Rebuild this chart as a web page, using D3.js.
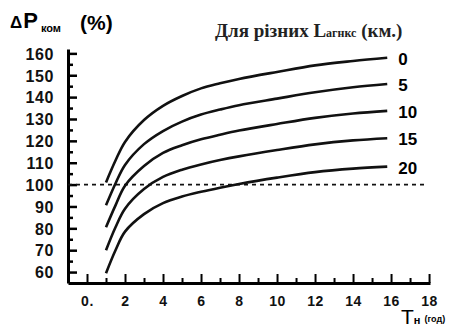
<!DOCTYPE html>
<html>
<head>
<meta charset="utf-8">
<script src="https://cdn.jsdelivr.net/npm/d3@7"></script>
<style>
  body { margin: 0; background: #fff; }
  #chart svg { display: block; }
  .tick text { font-family: "Liberation Sans", Arial, sans-serif; font-weight: bold; fill: #111; }
</style>
</head>
<body>
<div id="chart"></div>
<script>
const hours = [1, 1.5, 2, 3, 4, 5, 6, 7, 8, 10, 12, 14, 15.8];
// power gain, % - one array per distance
const curve0 = [101, 111, 119.5, 129.5, 136, 140.5, 144, 146.3, 148.3, 151.5, 154.5, 156.5, 158];
const curve5 = [90.5, 100.5, 109, 118.5, 124.5, 128.8, 132, 134.3, 136.3, 139.3, 142.2, 144.5, 146];
const curve10 = [80.5, 90.5, 99.5, 108.5, 114.5, 118, 120.7, 122.8, 124.7, 127.7, 130.5, 132.5, 133.7];
const curve15 = [70, 80.5, 89, 98, 103.5, 106.8, 109.2, 111.2, 112.9, 115.8, 118.4, 120.2, 121.2];
const curve20 = [59.5, 70, 78.5, 86.5, 91.5, 94.5, 96.7, 98.6, 100.3, 103.2, 105.7, 107.3, 108.2];
const curveLabels = ["0", "5", "10", "15", "20"];
const yMajor = [60, 70, 80, 90, 100, 110, 120, 130, 140, 150, 160];
const yMinor = [65, 75, 85, 95, 105, 115, 125, 135, 145, 155];
const xTicks = [0, 2, 4, 6, 8, 10, 12, 14, 16, 18];
const xMinor = [1, 3, 5, 7, 9, 11, 13, 15, 17];
const refLevel = 100;

const width = 470, height = 330;
const svg = d3.select("#chart").append("svg")
  .attr("width", width)
  .attr("height", height);

const x = d3.scaleLinear().domain([-1, 18.05]).range([68, 430]);
const y = d3.scaleLinear().domain([55, 162]).range([283, 49]);

// y axis: ticks point inward, labels on the left
const yAxis = svg.append("g")
  .attr("transform", "translate(" + x(-1) + ",0)")
  .call(d3.axisLeft(y).tickValues(yMajor).tickSize(-9).tickSizeOuter(0).tickPadding(14));
yAxis.selectAll("text")
  .style("font-size", "16px")
  .style("letter-spacing", "0.6px")
  .attr("dy", "0.36em");
yAxis.select(".domain").attr("stroke-width", 3);
yAxis.selectAll(".tick line").attr("stroke-width", 2.5);

svg.append("g")
  .attr("transform", "translate(" + x(-1) + ",0)")
  .call(d3.axisLeft(y).tickValues(yMinor).tickSize(-5).tickFormat(""))
  .call(g => g.select(".domain").remove())
  .selectAll(".tick line").attr("stroke-width", 2.5);

// x axis
const xAxis = svg.append("g")
  .attr("transform", "translate(0," + y(55) + ")")
  .call(d3.axisBottom(x).tickValues(xTicks).tickSize(-9).tickSizeOuter(0).tickPadding(13)
    .tickFormat(d => d === 0 ? "0." : d));
xAxis.selectAll("text")
  .style("font-size", "14px")
  .style("letter-spacing", "0.6px");
xAxis.select(".domain").attr("stroke-width", 3);
xAxis.selectAll(".tick line").attr("stroke-width", 2);

svg.append("g")
  .attr("transform", "translate(0," + y(55) + ")")
  .call(d3.axisBottom(x).tickValues(xMinor).tickSize(-5).tickFormat(""))
  .call(g => g.select(".domain").remove())
  .selectAll(".tick line").attr("stroke-width", 2);

// dashed 100% line
svg.append("line")
  .attr("x1", x(-1)).attr("x2", x(17.9))
  .attr("y1", y(refLevel)).attr("y2", y(refLevel))
  .attr("stroke", "#111")
  .attr("stroke-width", 1.6)
  .attr("stroke-dasharray", "4,4");

// curves
const series = [curve0, curve5, curve10, curve15, curve20];
const line = d3.line()
  .x((d, i) => x(hours[i]))
  .y(d => y(d))
  .curve(d3.curveCatmullRom.alpha(0.5));

svg.selectAll("path.curve")
  .data(series)
  .enter()
  .append("path")
  .attr("class", "curve")
  .attr("d", line)
  .attr("fill", "none")
  .attr("stroke", "#111")
  .attr("stroke-width", 2.6);

svg.selectAll("text.curve-label")
  .data(series)
  .enter()
  .append("text")
  .attr("class", "curve-label")
  .attr("x", x(hours[hours.length - 1]) + 11)
  .attr("y", d => y(d[d.length - 1]) + 1)
  .attr("dy", "0.36em")
  .style("font-family", "'Liberation Sans', Arial, sans-serif")
  .style("font-weight", "bold")
  .style("font-size", "17px")
  .text((d, i) => curveLabels[i]);

// y title: ΔPком (%)
const yTitle = svg.append("text")
  .attr("x", 10)
  .attr("y", 28)
  .style("font-family", "'Liberation Sans', Arial, sans-serif")
  .style("font-weight", "bold");
yTitle.append("tspan").style("font-size", "17px").text("Δ");
yTitle.append("tspan").style("font-size", "22px").attr("dx", 1).text("P");
yTitle.append("tspan").style("font-size", "11px").attr("dy", 4).attr("dx", 3).text("ком");
yTitle.append("tspan").style("font-size", "21px").attr("dy", -2).attr("x", 80).text("(%)");

// legend title
const legendTitle = svg.append("text")
  .attr("x", 215)
  .attr("y", 37)
  .style("font-family", "'Liberation Serif', 'Times New Roman', serif")
  .style("font-weight", "bold")
  .style("fill", "#222");
legendTitle.append("tspan").style("font-size", "19px").text("Для різних L");
legendTitle.append("tspan").style("font-size", "12px").text("агнкс");
legendTitle.append("tspan").style("font-size", "19px").text(" (км.)");

// x title: Tн (год)
const xTitle = svg.append("text")
  .attr("x", 401)
  .attr("y", 324)
  .style("font-family", "'Liberation Sans', Arial, sans-serif");
xTitle.append("tspan").style("font-size", "21px").text("T");
xTitle.append("tspan").style("font-size", "11px").style("font-weight", "bold").text("н");
xTitle.append("tspan").style("font-size", "9px").style("font-weight", "bold").attr("dx", 4).attr("dy", -2).text("(год)");
</script>
</body>
</html>
